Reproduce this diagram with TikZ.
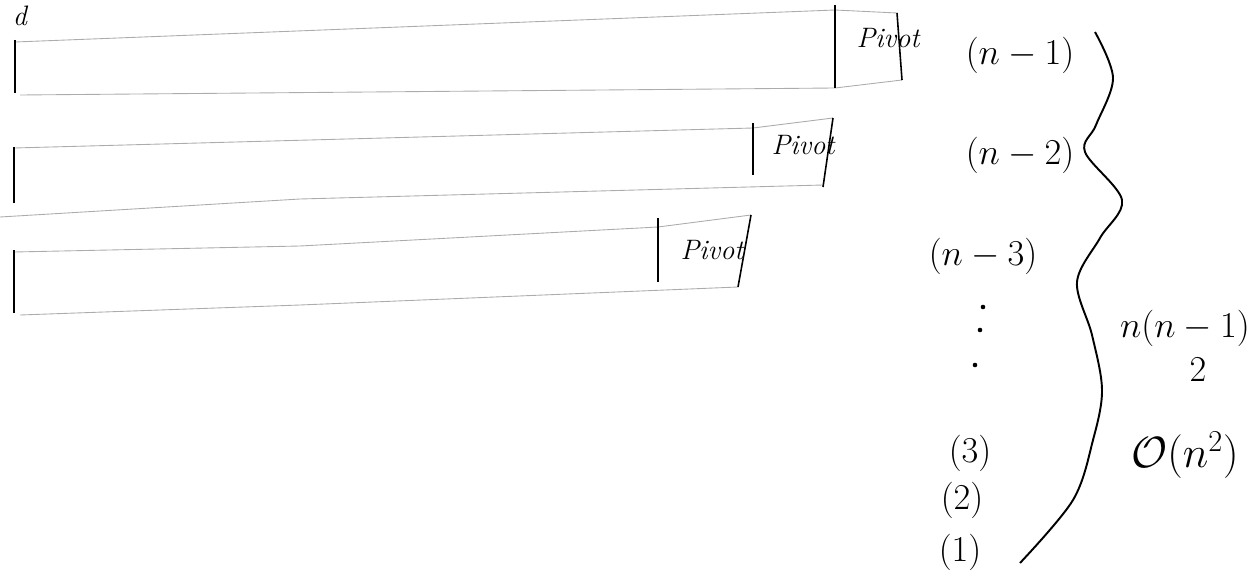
\documentclass[tikz,border=0pt]{standalone}
\usepackage{amsmath,amssymb}
\usepackage{tikz}
\usetikzlibrary{positioning,calc}

\begin{document}
\begin{tikzpicture}[
    x=0.02cm, y=-0.02cm,
    rim/.style={gray!65, line width=0.5pt},
    wall/.style={line width=1.5pt},
    lid/.style={line width=0.9pt},
    pivotlbl/.style={font=\itshape\fontsize{16}{16}\selectfont, inner sep=0pt},
    cnt/.style={font=\fontsize{22}{24}\selectfont, inner sep=0pt}
]
    \useasboundingbox (0,0) rectangle (1257,571);
    \node[font=\itshape\fontsize{16}{16}\selectfont, inner sep=0pt] (mark) at (20,16) {d};

    \draw[rim] (15,42) -- (835,10) -- (897,13);
    \draw[rim] (20,95) -- (835,88) -- (902,80);
    \draw[wall] (15,40) -- (15,93);
    \draw[wall] (835,5) -- (835,88);
    \draw[lid] (897,13) -- (902,80);
    \node[pivotlbl] (piv1) at (888,38) {Pivot};

    \draw[rim] (14,148) -- (753,128) -- (833,118);
    \draw[rim] (0,217) -- (300,199) -- (823,185);
    \draw[wall] (14,147) -- (14,203);
    \draw[wall] (753,123) -- (753,175);
    \draw[lid] (833,118) -- (823,187);
    \node[pivotlbl] (piv2) at (803,145) {Pivot};

    \draw[rim] (14,252) -- (300,246) -- (658,227) -- (751,215);
    \draw[rim] (20,315) -- (300,305) -- (738,287);
    \draw[wall] (14,250) -- (14,313);
    \draw[wall] (658,218) -- (658,282);
    \draw[lid] (751,215) -- (738,287);
    \node[pivotlbl] (piv3) at (712,250) {Pivot};

    \node[cnt] (c1) at (1020,55) {$(n-1)$};
    \node[cnt] (c2) at (1020,155) {$(n-2)$};
    \node[cnt] (c3) at (983,256) {$(n-3)$};
    \foreach \px/\py in {983/307, 980/330, 975/365}
        \fill (\px,\py) circle (1.3pt);
    \node[cnt] (k3) at (970,453) {$(3)$};
    \node[cnt] (k2) at (962,500) {$(2)$};
    \node[cnt] (k1) at (960,552) {$(1)$};

    \draw[line width=1.1pt] plot[smooth, tension=0.55] coordinates {(1095,32) (1113,78) (1096,125) (1085,152) (1122,200) (1100,238) (1077,282) (1092,335) (1102,390) (1093,440) (1073,500) (1020,563)};

    \node[cnt, font=\fontsize{20}{22}\selectfont] (sum) at (1185,328) {$n(n-1)$};
    \node[cnt, font=\fontsize{20}{22}\selectfont] (half) at (1198,370) {$2$};
    \node[cnt, font=\fontsize{26}{28}\selectfont] (big) at (1185,455) {$\mathcal{O}(n^2)$};
\end{tikzpicture}
\end{document}
